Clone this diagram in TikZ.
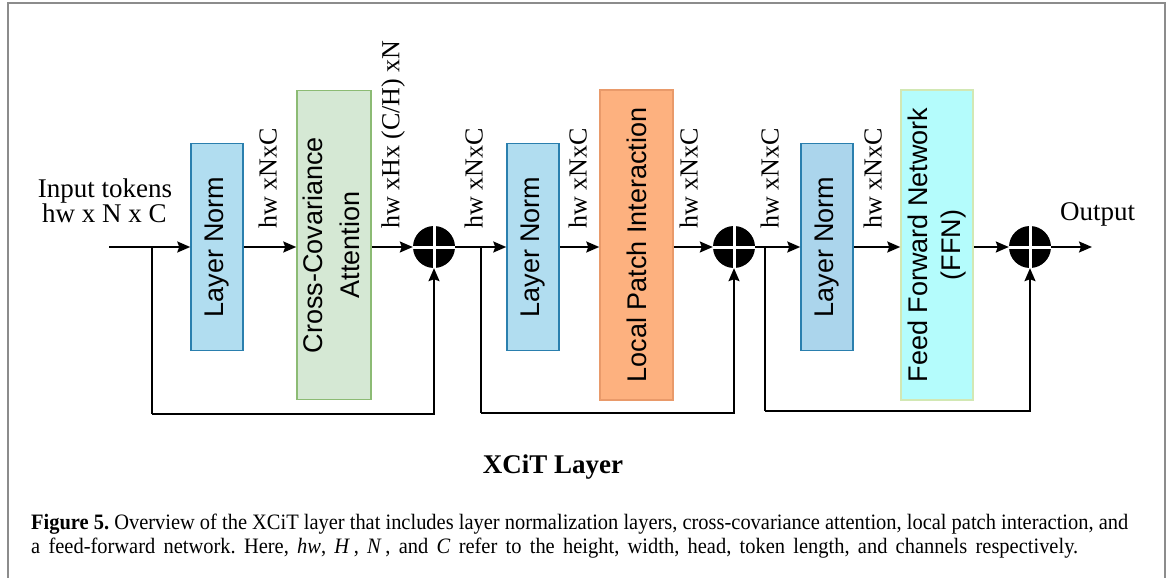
\documentclass[tikz,border=0pt]{standalone}
\usepackage{fontspec}
\setmainfont{Liberation Serif}
\newfontfamily\boxfont{Liberation Sans}
\newfontfamily\capfont[FakeStretch=0.93]{Liberation Serif}
\usetikzlibrary{arrows.meta}
\definecolor{lnfill}{HTML}{B1DDF0}
\definecolor{lnfillb}{HTML}{ABD5EC}
\definecolor{lndraw}{HTML}{2A7FAE}
\definecolor{ccafill}{HTML}{D5E8D4}
\definecolor{ccadraw}{HTML}{8CBB74}
\definecolor{lpifill}{HTML}{FDB17F}
\definecolor{lpidraw}{HTML}{E99A6A}
\definecolor{ffnfill}{HTML}{B4FCFC}
\definecolor{ffndraw}{HTML}{D2E8B4}
\definecolor{framecol}{HTML}{8C8C8C}
\begin{document}
\frenchspacing
\begin{tikzpicture}[x=1pt,y=-1pt,
  blk/.style={rectangle, inner sep=0pt, line width=1.5pt, font=\boxfont\fontsize{27}{37}\selectfont},
  lnbox/.style={blk, fill=lnfill, draw=lndraw, minimum width=52pt, minimum height=207pt},
  plus/.style={circle, fill=black, inner sep=0pt, minimum size=42pt},
  arr/.style={line width=1.8pt, -{Stealth[length=13pt,width=11pt,inset=2pt]}},
  ln/.style={line width=1.8pt},
  dimlab/.style={inner sep=0pt, anchor=south east, font=\fontsize{26}{30}\selectfont},
  sertxt/.style={inner sep=0pt, font=\fontsize{27}{30}\selectfont},
  captxt/.style={inner sep=0pt, anchor=base west, font=\capfont\fontsize{22}{24}\selectfont}
]
\useasboundingbox (0,0) rectangle (1171,578);
\draw[framecol, line width=2pt] (8,578) -- (8,3) -- (1165,3) -- (1165,578);

% blocks
\node[lnbox] (ln1) at (217,247) {\rotatebox{90}{Layer Norm}};
\node[blk, fill=ccafill, draw=ccadraw, minimum width=72pt, minimum height=309pt] (cca) at (334,245)
  {\rotatebox{90}{\begin{tabular}{@{}c@{}}Cross-Covariance\\Attention\end{tabular}}};
\node[plus] (p1) at (434,247) {};
\node[lnbox] (ln2) at (533,247) {\rotatebox{90}{Layer Norm}};
\node[blk, fill=lpifill, draw=lpidraw, minimum width=73pt, minimum height=310pt] (lpi) at (636.5,245)
  {\rotatebox{90}{Local Patch Interaction}};
\node[plus] (p2) at (734,247) {};
\node[lnbox, fill=lnfillb] (ln3) at (827,247) {\rotatebox{90}{Layer Norm}};
\node[blk, fill=ffnfill, draw=ffndraw, minimum width=72pt, minimum height=310pt, font=\boxfont\fontsize{27}{33}\selectfont] (ffn) at (937,245)
  {\rotatebox{90}{\begin{tabular}{@{}c@{}}Feed Forward Network\\(FFN)\end{tabular}}};
\node[plus] (p3) at (1030,247) {};

% white crosses
\foreach \p in {p1,p2,p3}{
  \draw[white, line width=3pt] (\p.north) -- (\p.south);
  \draw[white, line width=3pt] (\p.west) -- (\p.east);
}

% coordinates
\coordinate (in0) at (109,247);
\coordinate (br1) at (152,247);
\coordinate (s1) at (152,414);
\coordinate (br2) at (481,247);
\coordinate (s2) at (481,413);
\coordinate (br3) at (765,247);
\coordinate (s3) at (765,411);
\coordinate (out) at (1092,247);

% main path
\draw[arr] (in0) -- (ln1.west);
\draw[arr] (ln1.east) -- (cca.west |- ln1.east);
\draw[arr] (cca.east |- p1.west) -- (p1.west);
\draw[arr] (p1.east) -- (ln2.west);
\draw[arr] (ln2.east) -- (lpi.west |- ln2.east);
\draw[arr] (lpi.east |- p2.west) -- (p2.west);
\draw[arr] (p2.east) -- (ln3.west);
\draw[arr] (ln3.east) -- (ffn.west |- ln3.east);
\draw[arr] (ffn.east |- p3.west) -- (p3.west);
\draw[arr] (p3.east) -- (out);

% skip connections
\draw[ln] (br1) -- (s1);
\draw[arr] (s1) -| (p1.south);
\draw[ln] (br2) -- (s2);
\draw[arr] (s2) -| (p2.south);
\draw[ln] (br3) -- (s3);
\draw[arr] (s3) -| (p3.south);

% dimension labels
\node[dimlab] (d1) at (277,229) {\rotatebox{90}{hw xNxC}};
\node[dimlab] (d2) at (405,229) {\rotatebox{90}{hw xHx (C/H) xN}};
\node[dimlab] (d3) at (483,229) {\rotatebox{90}{hw xNxC}};
\node[dimlab] (d4) at (587,229) {\rotatebox{90}{hw xNxC}};
\node[dimlab] (d5) at (698,229) {\rotatebox{90}{hw xNxC}};
\node[dimlab] (d6) at (779,229) {\rotatebox{90}{hw xNxC}};
\node[dimlab] (d7) at (882,229) {\rotatebox{90}{hw xNxC}};

% input/output text
\node[sertxt, anchor=base] (inA) at (105,197) {Input tokens};
\node[sertxt, anchor=base] (inB) at (104.5,222) {hw x N x C};
\node[sertxt, anchor=base west] (outT) at (1060,220) {Output};

% title
\node[inner sep=0pt, anchor=base, font=\bfseries\fontsize{27}{30}\selectfont] (title) at (553,473) {XCiT Layer};

% caption
\node[captxt] (cap1) at (31,529)
  {\makebox[1097pt][s]{\textbf{Figure 5.} Overview of the XCiT layer that includes layer normalization layers, cross-covariance attention, local patch interaction, and}};
\node[captxt] (cap2) at (31,553)
  {\makebox[1047pt][s]{a feed-forward network. Here, \textit{hw}, \textit{H}\,, \textit{N}\,, and \textit{C} refer to the height, width, head, token length, and channels respectively.}};
\end{tikzpicture}
\end{document}
